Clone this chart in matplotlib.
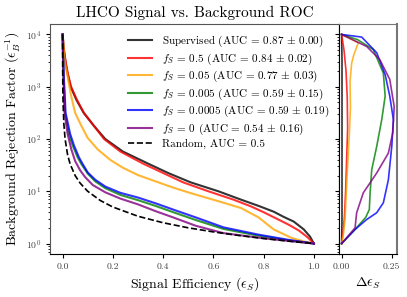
import numpy as np
import matplotlib
matplotlib.use("Agg")
import matplotlib.pyplot as plt
from matplotlib import ticker

plt.rcParams["font.family"] = ["cmr10", "DejaVu Serif"]
plt.rcParams["mathtext.fontset"] = "cm"
plt.rcParams["axes.formatter.use_mathtext"] = True

# ROC curves: signal efficiency vs log10(background rejection)
sup_eps = [0.0005, 0.004, 0.012, 0.02, 0.032, 0.055, 0.084, 0.125, 0.17, 0.24, 0.34, 0.42,
           0.51, 0.62, 0.71, 0.78, 0.84, 0.88, 0.92, 0.96, 0.985, 1.0]
sup_log = [4.0, 3.75, 3.46, 3.25, 3.0, 2.75, 2.5, 2.25, 2.0, 1.76, 1.53, 1.35,
           1.17, 1.0, 0.84, 0.72, 0.61, 0.51, 0.42, 0.27, 0.13, 0.0]

f05_eps = [0.0005, 0.004, 0.013, 0.021, 0.034, 0.057, 0.085, 0.125, 0.165, 0.23, 0.32, 0.4,
           0.48, 0.58, 0.68, 0.75, 0.80, 0.85, 0.90, 0.94, 0.975, 1.0]
f05_log = [4.0, 3.75, 3.46, 3.25, 3.0, 2.75, 2.5, 2.25, 2.0, 1.76, 1.53, 1.35,
           1.17, 1.0, 0.84, 0.71, 0.6, 0.48, 0.36, 0.25, 0.12, 0.0]

f005_eps = [0.0005, 0.004, 0.01, 0.02, 0.033, 0.05, 0.075, 0.10, 0.14, 0.19, 0.24, 0.3,
            0.37, 0.44, 0.52, 0.62, 0.71, 0.78, 0.84, 0.91, 0.96, 1.0]
f005_log = [4.0, 3.7, 3.45, 3.2, 2.85, 2.5, 2.25, 2.02, 1.8, 1.6, 1.45, 1.31,
            1.19, 1.07, 0.95, 0.81, 0.68, 0.5, 0.27, 0.11, 0.04, 0.0]

f0005_eps = [0.0003, 0.002, 0.004, 0.01, 0.025, 0.04, 0.06, 0.075, 0.10, 0.13, 0.17, 0.23,
             0.30, 0.37, 0.44, 0.53, 0.64, 0.78, 0.9, 1.0]
f0005_log = [4.0, 3.6, 3.2, 2.5, 2.1, 1.88, 1.65, 1.52, 1.34, 1.19, 1.06, 0.93,
             0.83, 0.72, 0.6, 0.45, 0.28, 0.15, 0.06, 0.0]

f00005_eps = [0.0003, 0.002, 0.005, 0.012, 0.03, 0.045, 0.065, 0.08, 0.10, 0.13, 0.17, 0.23,
              0.30, 0.37, 0.44, 0.53, 0.64, 0.78, 0.9, 1.0]
f00005_log = [4.0, 3.6, 3.2, 2.5, 2.1, 1.88, 1.65, 1.52, 1.36, 1.22, 1.09, 0.97,
              0.88, 0.77, 0.65, 0.5, 0.31, 0.17, 0.07, 0.0]

f0_eps = [0.0003, 0.0015, 0.003, 0.008, 0.02, 0.035, 0.05, 0.07, 0.09, 0.12, 0.17, 0.23,
          0.30, 0.37, 0.44, 0.53, 0.64, 0.8, 1.0]
f0_log = [4.0, 3.6, 3.3, 2.5, 2.1, 1.8, 1.58, 1.4, 1.27, 1.12, 0.98, 0.86,
          0.75, 0.62, 0.5, 0.34, 0.2, 0.1, 0.0]

rand_eps = [0.0001, 0.0002, 0.0005, 0.001, 0.002, 0.005, 0.01, 0.02, 0.03, 0.05, 0.07,
            0.1, 0.15, 0.2, 0.3, 0.4, 0.5, 0.6, 0.7, 0.8, 0.9, 1.0]
rand_rej = [10000, 5000, 2000, 1000, 500, 200, 100, 50, 33.3, 20, 14.3,
            10, 6.67, 5, 3.33, 2.5, 2, 1.67, 1.43, 1.25, 1.11, 1.0]

# spread of signal efficiency vs log10(rejection)
sup_d_log = [4.0, 3.5, 2.5, 1.5, 0.5, 0.0]
sup_d = [0.0, 0.002, 0.002, 0.002, 0.002, 0.0]
f05_d_log = [4.0, 3.7, 3.3, 2.8, 2.2, 1.6, 1.0, 0.5, 0.2, 0.0]
f05_d = [0.0, 0.012, 0.022, 0.028, 0.03, 0.025, 0.02, 0.014, 0.007, 0.0]
f005_d_log = [4.0, 3.84, 3.6, 3.45, 3.1, 2.6, 2.05, 1.5, 1.1, 0.46, 0.15, 0.0]
f005_d = [0.0, 0.083, 0.06, 0.05, 0.042, 0.044, 0.038, 0.03, 0.025, 0.017, 0.008, 0.0]
f0005_d_log = [4.0, 3.9, 3.71, 3.26, 2.82, 2.37, 1.86, 1.41, 0.97, 0.65, 0.5, 0.27, 0.0]
f0005_d = [0.0, 0.08, 0.158, 0.208, 0.217, 0.2, 0.175, 0.15, 0.142, 0.138, 0.12, 0.067, 0.0]
f00005_d_log = [4.0, 3.95, 3.65, 3.23, 2.82, 2.37, 1.86, 1.22, 0.78, 0.59, 0.46, 0.27, 0.0]
f00005_d = [0.0, 0.1, 0.175, 0.217, 0.24, 0.258, 0.25, 0.233, 0.208, 0.175, 0.125, 0.067, 0.0]
f0_d_log = [4.0, 3.77, 3.52, 3.14, 2.62, 2.12, 1.73, 1.35, 0.97, 0.59, 0.3, 0.0]
f0_d = [0.0, 0.125, 0.19, 0.24, 0.262, 0.255, 0.233, 0.175, 0.108, 0.075, 0.067, 0.0]

labels = [
    r"Supervised (AUC = 0.87 $\pm$ 0.00)",
    r"$f_S$ = 0.5 (AUC = 0.84 $\pm$ 0.02)",
    r"$f_S$ = 0.05 (AUC = 0.77 $\pm$ 0.03)",
    r"$f_S$ = 0.005 (AUC = 0.59 $\pm$ 0.15)",
    r"$f_S$ = 0.0005 (AUC = 0.59 $\pm$ 0.19)",
    r"$f_S$ = 0 (AUC = 0.54 $\pm$ 0.16)",
]
colors = ["black", "red", "orange", "green", "blue", "purple"]

curves = [(sup_eps, sup_log), (f05_eps, f05_log), (f005_eps, f005_log),
          (f0005_eps, f0005_log), (f00005_eps, f00005_log), (f0_eps, f0_log)]
spreads = [(sup_d, sup_d_log), (f05_d, f05_d_log), (f005_d, f005_d_log),
           (f0005_d, f0005_d_log), (f00005_d, f00005_d_log), (f0_d, f0_d_log)]

fig = plt.figure(figsize=(4.07, 2.97), dpi=100)
ax = fig.add_axes([50 / 407, 43 / 297, 289 / 407, 230 / 297])
axd = fig.add_axes([339 / 407, 43 / 297, 58 / 407, 230 / 297], sharey=ax)

for (e, l), lab, c in zip(curves, labels, colors):
    ax.plot(e, 10 ** np.array(l), color=c, lw=1.5, alpha=0.8, label=lab)
ax.plot(rand_eps, rand_rej, "k--", lw=1.2, label="Random, AUC = 0.5")

for (d, l), c in zip(spreads, colors):
    axd.plot(d, 10 ** np.array(l), color=c, lw=1.2, alpha=0.8)

ax.set_yscale("log")
ax.set_ylim(10 ** -0.2, 10 ** 4.2)
ax.set_xlim(-0.05, 1.1)
ax.set_xticks([0.0, 0.2, 0.4, 0.6, 0.8, 1.0])
ax.xaxis.set_major_formatter(ticker.FormatStrFormatter("%.1f"))
ax.tick_params(labelsize=7, labelcolor="#444444", length=3)
ax.tick_params(which="minor", length=1.5)

ax.set_title("LHCO Signal vs. Background ROC", fontsize=11, pad=5)
ax.set_xlabel(r"Signal Efficiency ($\epsilon_S$)", fontsize=10, labelpad=3)
ax.set_ylabel(r"Background Rejection Factor ($\epsilon_B^{-1}$)", fontsize=10, labelpad=2.5)
ax.legend(loc="upper right", frameon=False, fontsize=8, handlelength=2.1,
          handletextpad=0.9, labelspacing=0.2)

for s in ["left", "top"]:
    ax.spines[s].set_color("#555555")

axd.set_xlim(-0.013, 0.276)
axd.set_xticks([0.0, 0.25])
axd.xaxis.set_major_formatter(ticker.FormatStrFormatter("%.2f"))
axd.tick_params(labelsize=7, labelcolor="#444444", length=3)
axd.tick_params(which="minor", length=1.5)
axd.tick_params(axis="y", labelleft=False)
axd.set_xlabel(r"$\Delta\epsilon_S$", fontsize=10, labelpad=3)
for s in ["right", "top"]:
    axd.spines[s].set_color("#777777")
axd.spines["right"].set_linewidth(1.5)

fig.savefig("out.png", dpi=100)
